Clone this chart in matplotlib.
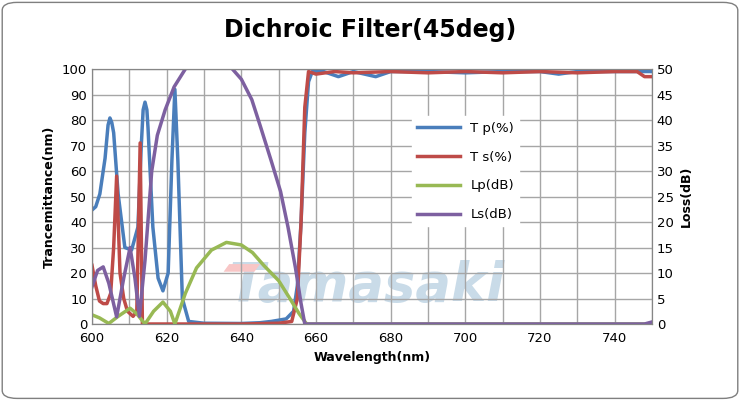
import numpy as np
import matplotlib
matplotlib.use("Agg")
import matplotlib.pyplot as plt
from matplotlib.patches import FancyBboxPatch, Polygon

tp_x = [600,601,602.1,603.5,604.3,604.8,605.3,605.8,607,608.8,610.6,612.3,613.2,613.7,614.2,614.7,615,616.3,617.7,619,620.4,621.4,622.2,623,624.2,625.9,630,640,645,648,652,654,655,656,657,658,659,662,666,670,676,680,690,700,710,720,725,730,740,745,750]
tp_y = [44.7,46,51,65,78,80.8,79,75,51,30,29,38,70,84,87,84,77,38,18,13,20,64,92,64,10,1,0.3,0.2,0.5,1,2,5,15,40,75,95,99,99,97,99,97,99,99,98.5,99,99,98,99,99,99,99]
ts_x = [600,601,602,603,604,605,605.8,606.6,607.5,608.5,609.5,611,612,612.9,613.5,615,640,650,653.5,655,656,657,658,660,665,670,680,690,700,710,720,730,740,746,748,750]
ts_y = [23,15,9,8,8,12,30,58,20,10,5,3,5,71,0,0,0,0.3,1,10,40,85,99,98,99,98.5,99,98.5,99,98.5,99,98.5,99,99,97,97]
lp_x = [600,602,604.5,607,610.2,612,614.2,616.5,619,621,622.2,625,628,632,636,640,643,646,650,653,655.5,657.5,660,750]
lp_y = [1.8,1.2,0.1,1.5,3.1,2,0,2.5,4.3,2.5,0,6,11,14.5,16,15.5,14,11.5,8.5,5,2,0,0,0]
ls_x = [600,601.5,603,604.5,606.6,608.5,610.2,611.5,612.7,614.2,616,617.5,619.6,622,625,628,632,636.4,640,642.8,645,648,650.5,652.5,654.5,656,657,660,748,750]
ls_y = [7.3,10.5,11.2,8,1.4,9,15,9,1.5,12.5,30,37,42,46.5,50,52,53,51,48,44,39,32,26,19,11,4,0,0,0,0.4]

fig = plt.figure(figsize=(7.4, 4.0), dpi=100)
box = FancyBboxPatch((0.003, 0.004), 0.994, 0.99, boxstyle="round,pad=0,rounding_size=0.02",
                     transform=fig.transFigure, fc="white", ec="#7f7f7f", lw=1, zorder=-10)
fig.patches.append(box)
ax = fig.add_axes([92/740, 1-324/400, 560/740, 255/400])
ax.patch.set_visible(False)
ax2 = ax.twinx()
ax2.patch.set_visible(False)

ax.text(0.49, 0.15, "Tamasaki", transform=ax.transAxes, fontsize=38, fontstyle="italic",
        fontweight="bold", color="#c9dbe8", ha="center", va="center", zorder=0, family="DejaVu Sans")
ax.add_patch(Polygon([[0.245, 0.235], [0.30, 0.235], [0.29, 0.205], [0.235, 0.205]], closed=True,
                     transform=ax.transAxes, fc="#f8c6c6", ec="none", zorder=0))

ax.plot(tp_x, tp_y, color="#4a7ebb", lw=2.5, label="T p(%)", zorder=3)
ax.plot(ts_x, ts_y, color="#be4b48", lw=2.5, label="T s(%)", zorder=3)
l3, = ax2.plot(lp_x, lp_y, color="#98b954", lw=2.5, label="Lp(dB)")
l4, = ax2.plot(ls_x, ls_y, color="#7d60a0", lw=2.5, label="Ls(dB)")

ax.set_xlim(600, 750); ax.set_ylim(0, 100); ax2.set_ylim(0, 50)
ax.set_xticks(range(600, 751, 20)); ax.set_xticks(range(600, 751, 10), minor=True)
ax.set_yticks(range(0, 101, 10)); ax2.set_yticks(range(0, 51, 5))
ax.grid(True, which="both", color="#a6a6a6", lw=1)
ax.tick_params(which="both", length=0, labelsize=9.5)
ax.tick_params(axis="x", pad=6)
ax2.tick_params(length=0, labelsize=9.5)
for s in list(ax.spines.values()) + list(ax2.spines.values()):
    s.set_color("#868686")
ax.set_xlabel("Wavelength(nm)", fontsize=9, fontweight="bold")
ax.set_ylabel("Trancemittance(nm)", fontsize=9, fontweight="bold")
ax2.set_ylabel("Loss(dB)", fontsize=9, fontweight="bold")
fig.suptitle("Dichroic Filter(45deg)", fontsize=17, fontweight="bold", y=0.955)

h1, lb1 = ax.get_legend_handles_labels()
leg = ax2.legend(h1 + [l3, l4], lb1 + ["Lp(dB)", "Ls(dB)"], loc="upper left",
                 bbox_to_anchor=(0.56, 0.84), frameon=True, fontsize=9.5, labelspacing=1.2,
                 handlelength=3.2, edgecolor="white", framealpha=1)
fig.savefig("out.png", dpi=100)
